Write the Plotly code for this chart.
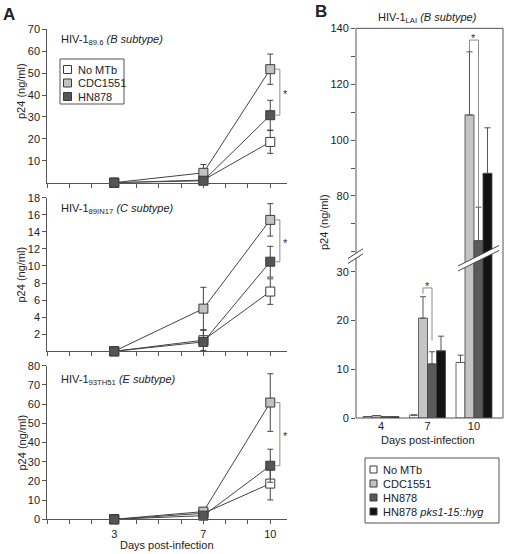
import plotly.graph_objects as go

W, H = 506, 554
def PX(x): return x / W
def PY(y): return 1 - y / H

# ---------------- data ----------------
days_A = [3, 7, 10]
series_names = ["No MTb", "CDC1551", "HN878"]

# HIV-1 89.6 (B subtype)
a1_nomtb = [0, 1.2, 18.6]; a1_nomtb_err = [0, 0.6, 5.2]
a1_cdc = [0, 4.5, 51.8];   a1_cdc_err = [0, 3.8, 6.9]
a1_hn = [0, 0.9, 30.8];    a1_hn_err = [0, 0.6, 6.8]
# HIV-1 89IN17 (C subtype)
a2_nomtb = [0, 1.3, 7.0];  a2_nomtb_err = [0, 1.2, 1.5]
a2_cdc = [0, 5.0, 15.4];   a2_cdc_err = [0, 2.5, 1.9]
a2_hn = [0, 1.1, 10.5];    a2_hn_err = [0, 1.4, 1.8]
# HIV-1 93TH51 (E subtype)
a3_nomtb = [0, 3.1, 18.6]; a3_nomtb_err = [0, 1.0, 8.5]
a3_cdc = [0, 4.0, 60.8];   a3_cdc_err = [0, 1.9, 15.0]
a3_hn = [0, 1.9, 27.9];    a3_hn_err = [0, 1.0, 8.6]

# Panel B: HIV-1 LAI
days_B = ["4", "7", "10"]
b_names = ["No MTb", "CDC1551", "HN878", "HN878 <i>pks1-15::hyg</i>"]
b_nomtb = [0.3, 0.6, 11.4];  b_nomtb_err = [0, 0, 1.5]
b_cdc = [0.5, 20.5, 109.0];  b_cdc_err = [0, 4.4, 22.6]
b_hn = [0.3, 11.1, 64.0];    b_hn_err = [0, 2.5, 12.0]
b_pks = [0.3, 13.8, 88.1];   b_pks_err = [0, 3.0, 16.3]

yt_A1 = [10, 20, 30, 40, 50, 60, 70]
yt_A2 = [2, 4, 6, 8, 10, 12, 14, 16, 18]
yt_A3 = [0, 10, 20, 30, 40, 50, 60, 70, 80]
yt_B_low = [0, 10, 20, 30]
yt_B_up = [80, 100, 120, 140]

# --------------- style ----------------
FONT = "Arial, Liberation Sans, sans-serif"
TXT = "#222222"
col_A = ["#ffffff", "#c2c2c2", "#555555"]
col_B = ["#ffffff", "#c4c4c4", "#5a5a5a", "#121212"]
AX = "#555555"

fig = go.Figure()

panelsA = [
    (1, [a1_nomtb, a1_cdc, a1_hn], [a1_nomtb_err, a1_cdc_err, a1_hn_err]),
    (2, [a2_nomtb, a2_cdc, a2_hn], [a2_nomtb_err, a2_cdc_err, a2_hn_err]),
    (3, [a3_nomtb, a3_cdc, a3_hn], [a3_nomtb_err, a3_cdc_err, a3_hn_err]),
]
for idx, vals, errs in panelsA:
    sx = "" if idx == 1 else str(idx)
    for k in range(3):
        fig.add_trace(go.Scatter(
            x=days_A, y=vals[k], mode="lines+markers", name=series_names[k],
            showlegend=False, cliponaxis=False,
            line=dict(color="#444444", width=1),
            marker=dict(symbol="square", size=9, color=col_A[k],
                        line=dict(color="#3a3a3a", width=1)),
            error_y=dict(type="data", array=errs[k], color="#444444",
                         thickness=1, width=3),
            xaxis="x" + sx, yaxis="y" + sx))

# Panel B bars: lower (x4/y4) and upper (x5/y5) segments
bvals = [b_nomtb, b_cdc, b_hn, b_pks]
berrs = [b_nomtb_err, b_cdc_err, b_hn_err, b_pks_err]
LOW_TOP = 32.85
UP_BOT = 57.8
xb = [0, 1, 2]
for k in range(4):
    e_low = [e if v < LOW_TOP else None for v, e in zip(bvals[k], berrs[k])]
    e_up = [e if v > UP_BOT else None for v, e in zip(bvals[k], berrs[k])]
    for ax, errs in (("4", e_low), ("5", e_up)):
        fig.add_trace(go.Bar(
            x=xb, y=bvals[k], name=b_names[k], showlegend=False,
            textposition="none",
            marker=dict(color=col_B[k], line=dict(color="#444444", width=0.8)),
            error_y=dict(type="data", symmetric=False, array=errs,
                         arrayminus=[0] * 3, color="#555555", thickness=1, width=3),
            xaxis="x" + ax, yaxis="y" + ax))

BARGAP = 0.226
gw = 1 - BARGAP
def boff(i):
    return -gw / 2 + (i + 0.5) * gw / 4

# ---------------- axes ----------------
xA = [PX(47.3), PX(287)]
common_x = dict(range=[0, 10.75], showline=True, linecolor=AX, linewidth=1,
                ticks="outside", ticklen=4, tickcolor=AX, tickvals=days_A,
                minor=dict(ticks="outside", ticklen=4, tickcolor=AX,
                           tick0=0, dtick=1),
                showgrid=False, zeroline=False, domain=xA, automargin=False,
                tickfont=dict(size=11, color=TXT, family=FONT))
common_y = dict(showline=True, linecolor=AX, linewidth=1, ticks="outside",
                ticklen=4, tickcolor=AX, showgrid=False, zeroline=False,
                automargin=False,
                tickfont=dict(size=11, color=TXT, family=FONT))

fig.update_layout(
    template="none",
    xaxis=dict(common_x, anchor="y", showticklabels=False),
    yaxis=dict(common_y, anchor="x", range=[0, 70], tickvals=yt_A1,
               domain=[PY(182.7), PY(29.3)]),
    xaxis2=dict(common_x, anchor="y2", showticklabels=False),
    yaxis2=dict(common_y, anchor="x2", range=[0, 18], tickvals=yt_A2,
                domain=[PY(351.3), PY(197.7)]),
    xaxis3=dict(common_x, anchor="y3"),
    yaxis3=dict(common_y, anchor="x3", range=[0, 80], tickvals=yt_A3,
                domain=[PY(519.3), PY(365.7)]),
    xaxis4=dict(domain=[PX(356), PX(503)], anchor="y4", range=[-0.538, 2.624],
                tickvals=xb, ticktext=days_B, ticks="", showline=False,
                showgrid=False, zeroline=False, automargin=False,
                tickfont=dict(size=11, color=TXT, family=FONT)),
    yaxis4=dict(common_y, anchor="x4", range=[0, LOW_TOP], tickvals=yt_B_low,
                showline=False, domain=[PY(418), PY(258)]),
    xaxis5=dict(domain=[PX(356), PX(503)], anchor="y5", range=[-0.538, 2.624],
                showticklabels=False, ticks="", showline=False, automargin=False,
                showgrid=False, zeroline=False),
    yaxis5=dict(common_y, anchor="x5", range=[UP_BOT, 140], tickvals=yt_B_up,
                minor=dict(ticks="outside", ticklen=4, tickcolor=AX,
                           tick0=0, dtick=10),
                showline=False, domain=[PY(258), PY(28.33)]),
    barmode="group", bargap=BARGAP, bargroupgap=0,
    width=W, height=H, margin=dict(l=0, r=0, t=0, b=0, autoexpand=False),
    paper_bgcolor="white", plot_bgcolor="rgba(0,0,0,0)",
    font=dict(family=FONT, size=11, color=TXT),
)

shapes = []
ann = []

# Panel B frame
shapes.append(dict(type="rect", xref="paper", yref="paper",
                   x0=PX(356), x1=PX(503), y0=PY(418), y1=PY(28.33),
                   line=dict(color=AX, width=1), layer="above"))

def band(x0, x1, yc0, slope, gap):
    ya0, ya1 = yc0, yc0 + slope * (x1 - x0)
    path = (f"M {PX(x0)} {PY(ya0)} L {PX(x1)} {PY(ya1)} "
            f"L {PX(x1)} {PY(ya1 + gap)} L {PX(x0)} {PY(ya0 + gap)} Z")
    out = [dict(type="path", xref="paper", yref="paper", path=path,
                fillcolor="white", line=dict(width=0), layer="above")]
    for g in (0, gap):
        out.append(dict(type="line", xref="paper", yref="paper",
                        x0=PX(x0), y0=PY(ya0 + g), x1=PX(x1), y1=PY(ya1 + g),
                        line=dict(color="#444444", width=1), layer="above"))
    return out

shapes += band(348, 363, 258.5, -0.65, 5)
shapes += band(458, 499, 266, -0.5, 5)

# Panel A significance brackets (CDC1551 vs HN878 at day 10)
br_color = "#8c8c8c"
for idx, vals, errs in panelsA:
    sx = "" if idx == 1 else str(idx)
    yg, yd = vals[1][-1], vals[2][-1]
    xv, xa = 10.43, 10.24
    shapes.append(dict(type="path", xref="x" + sx, yref="y" + sx,
                       path=f"M {xa} {yg} L {xv} {yg} L {xv} {yd} L {xa} {yd}",
                       line=dict(color=br_color, width=1)))
    ann.append(dict(x=10.68, y=(yg + yd) / 2, xref="x" + sx, yref="y" + sx,
                    text="*", showarrow=False, font=dict(size=11, color="#333333"),
                    yanchor="middle", yshift=-2))

# Panel B brackets
xg7, xd7 = 1 + boff(1), 1 + boff(2)
top7 = b_cdc[1] + b_cdc_err[1] + 1.8
shapes.append(dict(type="path", xref="x4", yref="y4",
                   path=(f"M {xg7} {b_cdc[1] + b_cdc_err[1] + 0.6} L {xg7} {top7} "
                         f"L {xd7} {top7} L {xd7} {b_hn[1] + b_hn_err[1] + 2.3}"),
                   line=dict(color=br_color, width=1)))
ann.append(dict(x=(xg7 + xd7) / 2, y=top7, xref="x4", yref="y4", text="*",
                showarrow=False, font=dict(size=11, color="#333333"), yanchor="bottom",
                yshift=-6))
xg10, xd10 = 2 + boff(1), 2 + boff(2)
top10 = b_cdc[2] + b_cdc_err[2] + 4.2
shapes.append(dict(type="path", xref="x5", yref="y5",
                   path=(f"M {xg10} {b_cdc[2] + b_cdc_err[2] + 0.2} L {xg10} {top10} "
                         f"L {xd10} {top10} L {xd10} {b_hn[2] + b_hn_err[2]}"),
                   line=dict(color=br_color, width=1)))
ann.append(dict(x=(xg10 + xd10) / 2, y=top10, xref="x5", yref="y5", text="*",
                showarrow=False, font=dict(size=11, color="#333333"), yanchor="bottom",
                yshift=-6))

def txt(x, y, s, size=11, xanchor="center", yanchor="middle", angle=0):
    ann.append(dict(x=PX(x), y=PY(y), xref="paper", yref="paper", text=s,
                    showarrow=False, xanchor=xanchor, yanchor=yanchor,
                    textangle=angle,
                    font=dict(size=size, color=TXT, family=FONT)))

txt(9, 14, "<b>A</b>", size=17)
txt(321, 12, "<b>B</b>", size=17)
txt(59, 40, "HIV-1<sub>89.6</sub> <i>(B subtype)</i>", xanchor="left")
txt(59, 209, "HIV-1<sub>89IN17</sub> <i>(C subtype)</i>", xanchor="left")
txt(59, 380, "HIV-1<sub>93TH51</sub> <i>(E subtype)</i>", xanchor="left")
txt(427.5, 18, "HIV-1<sub>LAI</sub> <i>(B subtype)</i>")
txt(21, 91, "p24 (ng/ml)", angle=-90)
txt(21, 274.5, "p24 (ng/ml)", angle=-90)
txt(21, 442.5, "p24 (ng/ml)", angle=-90)
txt(324, 222, "p24 (ng/ml)", angle=-90)
txt(167, 545, "Days post-infection")
txt(428, 440, "Days post-infection")

# Legend A (manual)
shapes.append(dict(type="rect", xref="paper", yref="paper", x0=PX(60), x1=PX(124),
                   y0=PY(104), y1=PY(59), line=dict(color=AX, width=1)))
for k, yc in enumerate([69.5, 83, 96.5]):
    shapes.append(dict(type="rect", xref="paper", yref="paper",
                       x0=PX(63.5), x1=PX(71.5), y0=PY(yc + 4), y1=PY(yc - 4),
                       fillcolor=col_A[k], line=dict(color="#3a3a3a", width=1)))
    txt(76, yc, series_names[k], xanchor="left")

# Legend B (manual)
shapes.append(dict(type="rect", xref="paper", yref="paper", x0=PX(365), x1=PX(499),
                   y0=PY(523), y1=PY(458), line=dict(color=AX, width=1)))
for k, yc in enumerate([469.5, 483.5, 497.5, 511.5]):
    shapes.append(dict(type="rect", xref="paper", yref="paper",
                       x0=PX(370), x1=PX(377), y0=PY(yc + 3.5), y1=PY(yc - 3.5),
                       fillcolor=col_B[k], line=dict(color="#3a3a3a", width=1)))
    txt(381, yc, b_names[k], xanchor="left")

fig.update_layout(shapes=shapes, annotations=ann)
fig.write_html("out.html", config={"displayModeBar": False},
               post_script="document.body.style.margin='0';"
                           "document.body.style.overflow='hidden';")
